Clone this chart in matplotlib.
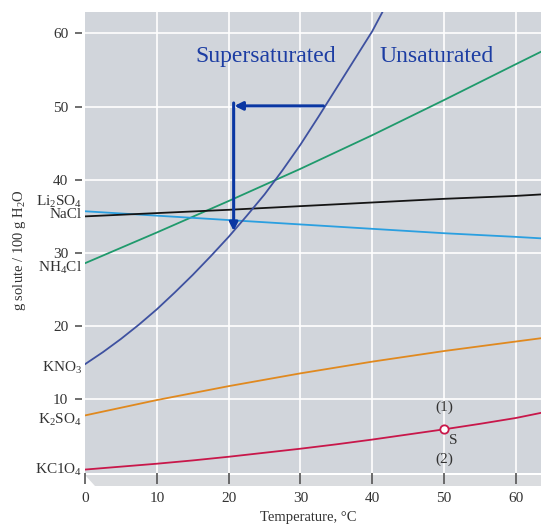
import matplotlib
matplotlib.use("Agg")
import matplotlib.pyplot as plt
import matplotlib.transforms as mtransforms

plt.rcParams["font.family"] = ["Liberation Serif", "DejaVu Serif"]
plt.rcParams["mathtext.default"] = "regular"

# solubility curves (g solute / 100 g water)
t_kno3 = [0, 2.5, 5, 7.5, 10, 12.5, 15, 17.5, 20, 22.5, 25, 27.5, 30,
          32.5, 35, 37.5, 40, 42]
kno3 = [14.8, 16.45, 18.25, 20.2, 22.3, 24.6, 27.0, 29.55, 32.2, 35.05,
        38.0, 41.3, 44.8, 48.6, 52.5, 56.4, 60.3, 64.0]

t_all = [0, 10, 20, 30, 40, 50, 60, 63.5]
nh4cl = [28.6, 32.8, 37.1, 41.5, 46.1, 50.9, 55.8, 57.5]
li2so4 = [35.7, 35.1, 34.5, 33.9, 33.3, 32.7, 32.2, 32.0]
nacl = [35.0, 35.45, 35.9, 36.4, 36.9, 37.4, 37.8, 38.0]
k2so4 = [7.8, 9.9, 11.8, 13.55, 15.15, 16.6, 17.9, 18.35]

t_kclo4 = [0, 5, 10, 15, 20, 25, 30, 35, 40, 45, 50, 55, 60, 63.5]
kclo4 = [0.4, 0.8, 1.2, 1.65, 2.15, 2.7, 3.25, 3.85, 4.5, 5.2, 5.9, 6.65,
         7.45, 8.15]

x_ticks = [0, 10, 20, 30, 40, 50, 60]
y_ticks = [10, 20, 30, 40, 50, 60]

# label text and baseline height at the left of the axis
names = ["$Li_2SO_4$", "NaCl", "$NH_4Cl$", "$KNO_3$", "$K_2SO_4$", "$KC1O_4$"]
name_y = [36.5, 34.75, 27.4, 13.8, 6.7, -0.2]

s_point = (50, 5.9)

fig = plt.figure(figsize=(5.41, 5.27), dpi=100)
W, H = 541, 527
ax = fig.add_axes([85 / W, 1 - 472.5 / H, 456 / W, 461 / H])
ax.set_xlim(0, 63.5)
ax.set_ylim(0, 63.0)
ax.set_facecolor("#d1d5db")

for v in x_ticks[1:]:
    ax.axvline(v, color="white", lw=1.2, zorder=1)
for v in y_ticks:
    ax.axhline(v, color="white", lw=1.2, zorder=1)

ax.plot(t_all, nh4cl, color="#1f9a6c", lw=1.3, zorder=3)
ax.plot(t_all, li2so4, color="#2a9fe0", lw=1.3, zorder=3)
ax.plot(t_all, nacl, color="#151515", lw=1.3, zorder=3)
ax.plot(t_all, k2so4, color="#e0891f", lw=1.3, zorder=3)
ax.plot(t_kclo4, kclo4, color="#c8174a", lw=1.3, zorder=3)
ax.plot(t_kno3, kno3, color="#3e51a0", lw=1.3, zorder=3)

ax.plot(*s_point, "o", ms=6, mfc="white", mec="#c8174a", mew=1.3, zorder=4)
ax.text(50, 8.9, "(1)", ha="center", va="center", fontsize=11, color="#333333")
ax.text(51.3, 4.4, "S", ha="center", va="center", fontsize=11, color="#333333")
ax.text(50, 1.8, "(2)", ha="center", va="center", fontsize=11, color="#333333")

arrow_c = "#0a37a3"
ax.annotate("", xy=(20.8, 50.1), xytext=(33.2, 50.1),
            arrowprops=dict(arrowstyle="-|>", lw=2.2, color=arrow_c,
                            mutation_scale=12, shrinkA=0, shrinkB=0), zorder=5)
ax.annotate("", xy=(20.7, 33.0), xytext=(20.7, 50.5),
            arrowprops=dict(arrowstyle="-|>", lw=2.2, color=arrow_c,
                            mutation_scale=12, shrinkA=0, shrinkB=0), zorder=5)

ax.text(25.2, 56.1, "Supersaturated", ha="center", va="baseline",
        fontsize=17, color="#1c3da3")
ax.text(49.0, 56.1, "Unsaturated", ha="center", va="baseline",
        fontsize=17, color="#1c3da3")

for sp in ax.spines.values():
    sp.set_visible(False)
ax.spines["left"].set_position(("outward", 2))
ax.set_xticks(x_ticks)
ax.set_yticks(y_ticks)
ax.tick_params(axis="x", direction="out", length=8, width=1.2, color="#555555",
               pad=6, labelsize=11, labelcolor="#333333")
ax.tick_params(axis="y", direction="out", length=5, width=1.2, color="#555555",
               pad=5, labelsize=11, labelcolor="#333333")

trans = mtransforms.blended_transform_factory(ax.transAxes, ax.transData)
for name, yv in zip(names, name_y):
    ax.text(-0.007, yv, name, transform=trans, ha="right", va="baseline",
            fontsize=11, color="#333333", clip_on=False)

# light floor band under the plot
band = plt.Polygon([[85 / W, 1 - 474.5 / H], [1.0, 1 - 474.5 / H],
                    [1.0, 1 - 486 / H], [95 / W, 1 - 486 / H]],
                   closed=True, transform=fig.transFigure,
                   facecolor="#dadcdf", edgecolor="none", zorder=-1)
fig.add_artist(band)

fig.text(308 / W, 1 - 517 / H, "Temperature, °C", ha="center", va="center",
         fontsize=10.5, color="#333333")
fig.text(20 / W, 1 - 250 / H, "g solute / 100 g $H_2O$", ha="center",
         va="center", rotation=90, fontsize=10.5, color="#333333")

fig.savefig("out.png", dpi=100)
